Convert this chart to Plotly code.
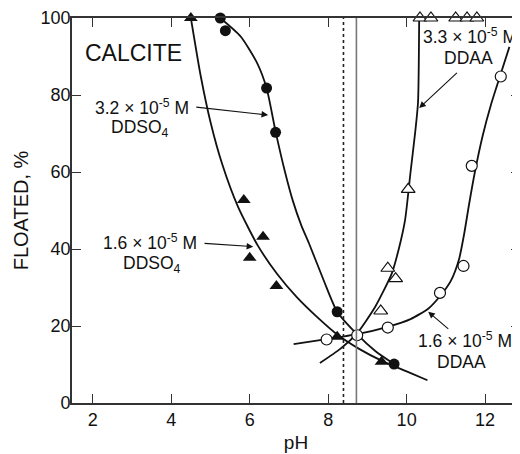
import plotly.graph_objects as go

# ---------------- data ----------------
# 3.2e-5 M DDSO4 : filled circles
ddso4_hi_ph = [5.25, 5.38, 6.43, 6.66, 8.23, 9.68]
ddso4_hi_fl = [100, 96.7, 81.8, 70.3, 23.7, 10.1]
ddso4_hi_curve_ph = [5.25, 5.77, 6.19, 6.43, 6.66, 6.9, 7.1, 7.32, 7.51, 7.9, 8.23, 8.74, 9.2, 9.68]
ddso4_hi_curve_fl = [100, 95.2, 88.3, 81.8, 70.5, 60.0, 52.5, 46.0, 41.5, 31.5, 23.7, 17.8, 13.5, 10.1]

# 1.6e-5 M DDSO4 : filled triangles
ddso4_lo_ph = [4.5, 5.85, 6.34, 6.0, 6.68, 8.23, 9.36]
ddso4_lo_fl = [100, 52.7, 43.2, 37.7, 30.4, 17.2, 10.7]
ddso4_lo_curve_ph = [4.5, 4.75, 5.0, 5.3, 5.7, 6.2, 6.7, 7.2, 7.7, 8.23, 8.8, 9.36, 10.0, 10.53]
ddso4_lo_curve_fl = [100, 85.0, 73.0, 62.0, 51.0, 41.0, 33.5, 27.5, 22.5, 17.8, 14.0, 11.0, 8.2, 5.9]

# 3.3e-5 M DDAA : open triangles
ddaa_hi_ph = [9.34, 9.52, 9.72, 10.04, 10.34, 10.62, 11.25, 11.54, 11.79]
ddaa_hi_fl = [23.9, 35.0, 32.3, 55.5, 100, 100, 100, 100, 100]
ddaa_hi_curve_ph = [7.79, 8.3, 8.73, 9.2, 9.62, 9.8, 9.96, 10.1, 10.22, 10.29, 10.32]
ddaa_hi_curve_fl = [10.4, 14.0, 18.0, 25.0, 33.6, 40.0, 47.5, 60.0, 70.5, 78.0, 100]

# 1.6e-5 M DDAA : open circles
ddaa_lo_ph = [7.96, 8.74, 9.52, 10.85, 11.45, 11.66, 12.40]
ddaa_lo_fl = [16.5, 17.6, 19.6, 28.6, 35.6, 61.6, 84.8]
ddaa_lo_curve_ph = [7.12, 7.96, 8.74, 9.52, 10.1, 10.55, 10.87, 11.13, 11.34, 11.47, 11.59,
                    11.74, 11.94, 12.15, 12.4, 12.62]
ddaa_lo_curve_fl = [15.3, 16.6, 17.9, 19.8, 21.8, 24.5, 28.0, 31.8, 37.5, 44.1, 51.5,
                    60.0, 69.5, 77.5, 85.5, 92.5]

# vertical reference lines (pH)
vline_ph = [8.39, 8.72]

x_ticks = [2, 4, 6, 8, 10, 12]
y_ticks = [0, 20, 40, 60, 80, 100]

FONT = "Liberation Sans, Arial, sans-serif"
INK = "#111111"
AX = "#333333"

fig = go.Figure()

line_style = dict(color=INK, width=1.8, shape="spline", smoothing=0.6)
for cx, cy in [(ddso4_hi_curve_ph, ddso4_hi_curve_fl),
               (ddso4_lo_curve_ph, ddso4_lo_curve_fl),
               (ddaa_hi_curve_ph, ddaa_hi_curve_fl),
               (ddaa_lo_curve_ph, ddaa_lo_curve_fl)]:
    fig.add_trace(go.Scatter(x=cx, y=cy, mode="lines", line=line_style,
                             hoverinfo="skip", showlegend=False, cliponaxis=False))

fig.add_trace(go.Scatter(x=ddso4_hi_ph, y=ddso4_hi_fl, mode="markers",
                         marker=dict(symbol="circle", size=11, color=INK),
                         showlegend=False, cliponaxis=False))
fig.add_trace(go.Scatter(x=ddso4_lo_ph, y=ddso4_lo_fl, mode="markers",
                         marker=dict(symbol="triangle-up", size=12, color=INK),
                         showlegend=False, cliponaxis=False))
fig.add_trace(go.Scatter(x=ddaa_hi_ph, y=ddaa_hi_fl, mode="markers",
                         marker=dict(symbol="triangle-up", size=12, color="white",
                                     line=dict(color=INK, width=1.2)),
                         showlegend=False, cliponaxis=False))
fig.add_trace(go.Scatter(x=ddaa_lo_ph, y=ddaa_lo_fl, mode="markers",
                         marker=dict(symbol="circle", size=11, color="white",
                                     line=dict(color=INK, width=1.2)),
                         showlegend=False, cliponaxis=False))

# right-side inward ticks
fig.add_trace(go.Scatter(x=[None], y=[None], yaxis="y2", showlegend=False))

shapes = [
    dict(type="line", xref="x", yref="y", x0=vline_ph[0], x1=vline_ph[0], y0=0, y1=100,
         line=dict(color="#222222", width=1.6, dash="dot")),
    dict(type="line", xref="x", yref="y", x0=vline_ph[1], x1=vline_ph[1], y0=0, y1=100,
         line=dict(color="#777777", width=1.6)),
]

tf = dict(family=FONT, size=17.5, color=INK)
annotations = [
    dict(x=3.05, y=90.9, text="CALCITE", showarrow=False, font=dict(family=FONT, size=23, color=INK)),
    dict(x=3.25, y=76.9, text="3.2 × 10<sup>-5</sup> M", showarrow=False, font=tf),
    dict(x=3.21, y=71.2, text="DDSO<sub>4</sub>", showarrow=False, font=tf),
    dict(x=3.47, y=41.8, text="1.6 × 10<sup>-5</sup> M", showarrow=False, font=tf),
    dict(x=3.50, y=36.1, text="DDSO<sub>4</sub>", showarrow=False, font=tf),
    dict(x=11.62, y=95.4, text="3.3 × 10<sup>-5</sup> M", showarrow=False, font=tf),
    dict(x=11.57, y=89.6, text="DDAA", showarrow=False, font=tf),
    dict(x=11.49, y=16.3, text="1.6 × 10<sup>-5</sup> M", showarrow=False, font=tf),
    dict(x=11.41, y=10.6, text="DDAA", showarrow=False, font=tf),
]
arrows = [
    (4.60, 76.9, 6.47, 74.8),
    (4.81, 41.5, 6.09, 40.6),
    (11.32, 86.1, 10.32, 76.6),
    (11.10, 18.9, 10.55, 23.7),
]
for tx, ty, hx, hy in arrows:
    annotations.append(dict(x=hx, y=hy, ax=tx, ay=ty, axref="x", ayref="y",
                            xref="x", yref="y", text="", showarrow=True,
                            arrowhead=2, arrowsize=1.2, arrowwidth=1.1, arrowcolor=INK))

# page body has an 8px default margin: margins compensate so the plot lands where the reference has it
fig.update_layout(
    width=520, height=454,
    margin=dict(l=64, r=8, t=10, b=59, autoexpand=False),
    paper_bgcolor="white", plot_bgcolor="white",
    font=dict(family=FONT, color=INK),
    shapes=shapes, annotations=annotations,
    xaxis=dict(range=[1.47, 12.89], tickvals=x_ticks, ticks="inside", ticklen=9,
               tickwidth=1.3, tickcolor=AX, showline=True, linecolor=AX, linewidth=1.6,
               mirror="ticks", showgrid=False, zeroline=False, automargin=False,
               tickfont=dict(family=FONT, size=18, color=INK),
               title=dict(text="pH", font=dict(family=FONT, size=19, color=INK), standoff=6)),
    yaxis=dict(range=[0, 100], tickvals=y_ticks, ticks="inside", ticklen=9,
               tickwidth=1.3, tickcolor=AX, showline=True, linecolor=AX, linewidth=1.6,
               showgrid=False, zeroline=False, ticklabelstandoff=-4, automargin=False,
               tickfont=dict(family=FONT, size=18, color=INK),
               title=dict(text="FLOATED, %", font=dict(family=FONT, size=20, color=INK), standoff=7)),
    yaxis2=dict(range=[0, 100], tickvals=y_ticks, ticks="inside", ticklen=9,
                tickwidth=1.3, tickcolor=AX, showline=False, showticklabels=False,
                showgrid=False, zeroline=False, overlaying="y", side="right", automargin=False),
)

fig.write_html("out.html")
